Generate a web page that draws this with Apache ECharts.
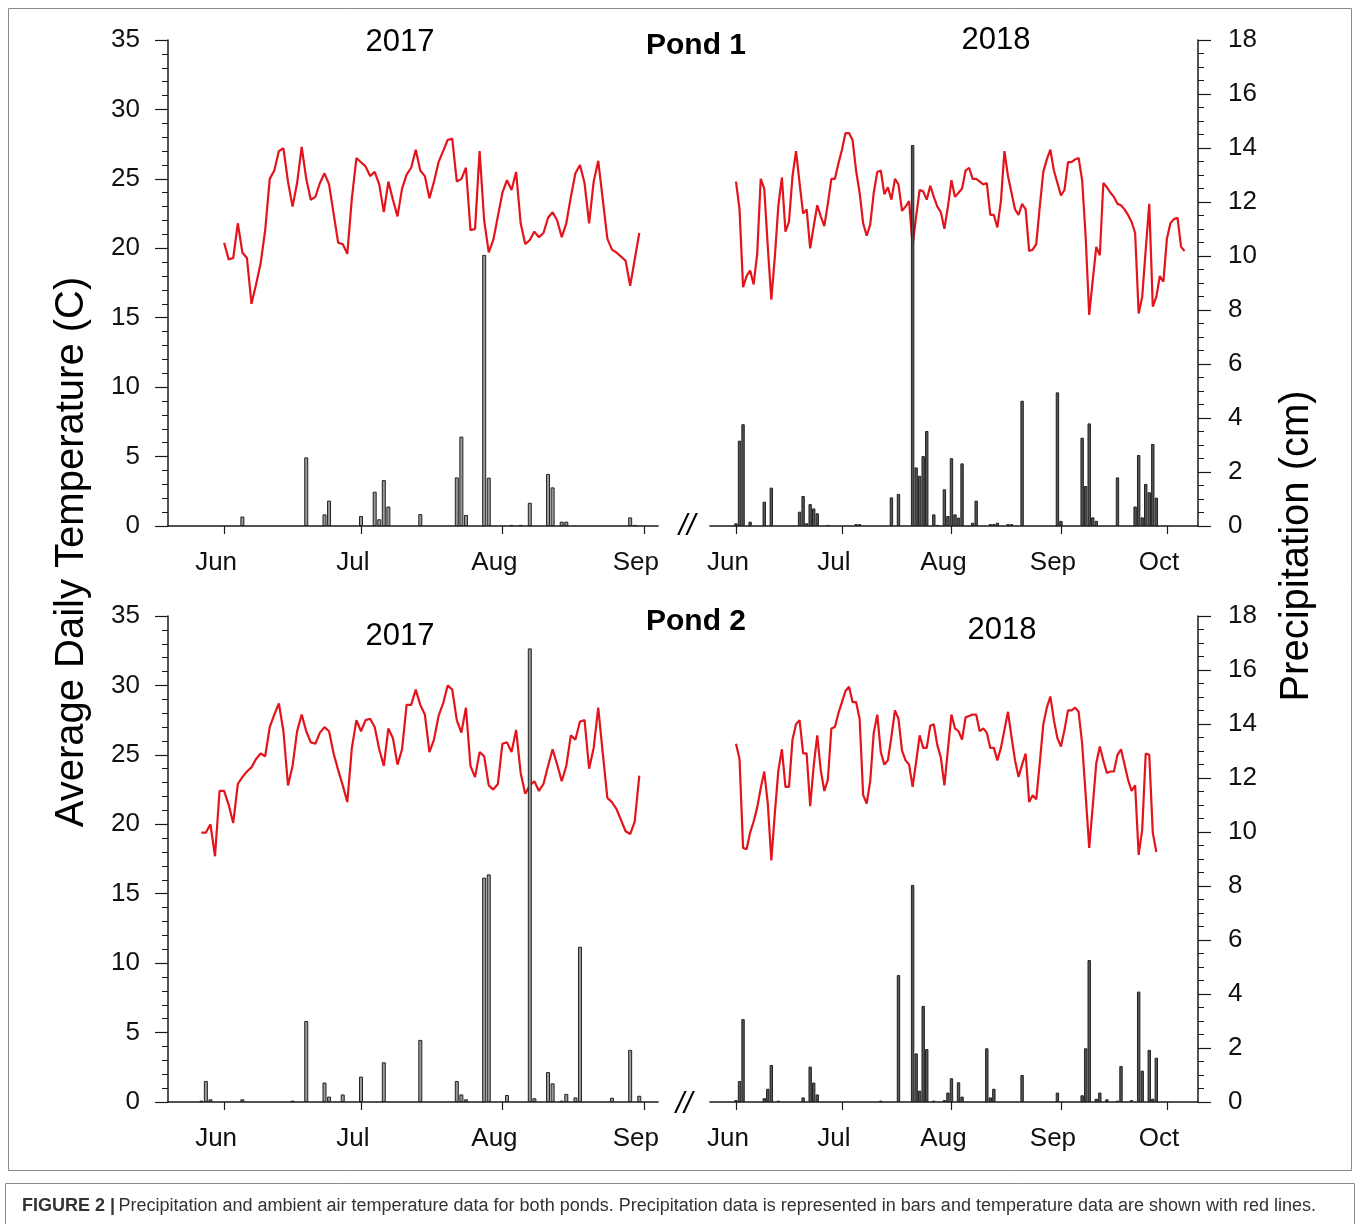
<!DOCTYPE html>
<html lang="en">
  <head>
    <meta charset="UTF-8" />
    <title>Pond precipitation and temperature</title>
    <script src="https://cdn.jsdelivr.net/npm/echarts/dist/echarts.min.js"></script>
    <style>
      html,
      body {
        margin: 0;
        padding: 0;
        background: #fff;
      }
      #chart {
        width: 1360px;
        height: 1224px;
      }
    </style>
  </head>
  <body>
    <div id="chart"></div>
    <script>
      // x values are days counted from June 1 of each year
      const months2017 = ["Jun", "Jul", "Aug", "Sep"];
      const monthDays2017 = [0, 30, 61, 92];
      const months2018 = ["Jun", "Jul", "Aug", "Sep", "Oct"];
      const monthDays2018 = [0, 30, 61, 92, 122];

      // daily mean temperature (C), first value is at the start day
      const pond1TempStart2017 = 0;
      const pond1Temp2017 = [
        20.4, 19.2, 19.3, 21.8, 19.7, 19.3, 16.0, 17.4, 18.9, 21.3,
        25.0, 25.6, 27.0, 27.2, 24.8, 23.0, 24.7, 27.3, 25.0, 23.5,
        23.7, 24.7, 25.4, 24.6, 22.5, 20.4, 20.3, 19.6, 23.6, 26.5,
        26.2, 25.9, 25.2, 25.5, 24.6, 22.6, 24.8, 23.5, 22.3, 24.3,
        25.3, 25.8, 27.1, 25.6, 25.2, 23.6, 24.8, 26.2, 27.0, 27.8,
        27.9, 24.8, 25.0, 25.8, 21.3, 21.4, 27.0, 22.0, 19.7, 20.6,
        22.3, 24.0, 24.9, 24.2, 25.5, 21.8, 20.3, 20.6, 21.2, 20.8,
        21.1, 22.2, 22.6, 22.0, 20.8, 21.8, 23.7, 25.4, 26.0, 24.7,
        21.8, 24.8, 26.3, 23.5, 20.7, 19.9, 19.7, 19.4, 19.1, 17.3,
        19.2, 21.1
      ];
      const pond1TempStart2018 = 0;
      const pond1Temp2018 = [
        24.8, 22.8, 17.2, 18.0, 18.4, 17.4, 19.6, 25.0, 24.3, 20.1,
        16.3, 19.4, 23.1, 25.1, 21.2, 21.9, 25.2, 27.0, 24.7, 22.5,
        22.8, 20.0, 21.6, 23.1, 22.3, 21.6, 23.2, 25.0, 25.0, 26.1,
        27.1, 28.3, 28.3, 27.8, 25.6, 24.0, 21.8, 20.9, 21.7, 24.0,
        25.5, 25.6, 23.9, 24.4, 23.5, 25.0, 24.6, 22.7, 23.0, 23.4,
        20.2, 22.3, 24.2, 24.1, 23.5, 24.5, 23.7, 23.0, 22.6, 21.4,
        23.0, 24.9, 23.7, 24.0, 24.3, 25.6, 25.8, 25.0, 25.0, 24.8,
        24.6, 24.7, 22.4, 22.4, 21.5, 23.4, 27.0, 25.2, 24.0, 22.8,
        22.4, 23.2, 22.8, 19.8, 19.9, 20.3, 23.0, 25.5, 26.4, 27.1,
        25.6, 24.7, 23.8, 24.2, 26.2, 26.2, 26.4, 26.5, 24.9, 20.8,
        15.2, 17.7, 20.1, 19.5, 24.7, 24.4, 24.0, 23.7, 23.2, 23.1,
        22.8, 22.4, 21.9, 21.1, 15.3, 16.5, 19.9, 23.2, 15.8, 16.5,
        18.0, 17.6, 20.7, 21.8, 22.1, 22.2, 20.1, 19.8
      ];
      const pond2TempStart2017 = -5;
      const pond2Temp2017 = [
        19.4, 19.4, 20.0, 17.7, 22.4,
        22.4, 21.4, 20.1, 22.9, 23.4, 23.8, 24.1, 24.7, 25.1, 24.9,
        27.0, 27.9, 28.7, 26.7, 22.8, 24.2, 26.7, 27.9, 26.7, 25.9,
        25.8, 26.6, 27.0, 26.7, 25.1, 23.9, 22.8, 21.6, 25.5, 27.5,
        26.7, 27.5, 27.6, 27.0, 25.4, 24.2, 26.9, 26.2, 24.3, 25.4,
        28.6, 28.6, 29.7, 28.6, 27.9, 25.2, 26.1, 27.8, 28.7, 30.0,
        29.7, 27.5, 26.6, 28.4, 24.2, 23.4, 25.2, 24.9, 22.8, 22.5,
        22.9, 25.8, 25.9, 25.2, 26.8, 23.7, 22.2, 22.8, 23.1, 22.4,
        22.9, 24.2, 25.4, 24.3, 23.1, 24.2, 26.4, 26.1, 27.4, 27.5,
        24.0, 25.5, 28.4, 25.1, 21.9, 21.6, 21.1, 20.3, 19.5, 19.3,
        20.2, 23.5
      ];
      const pond2TempStart2018 = 0;
      const pond2Temp2018 = [
        25.8, 24.7, 18.3, 18.2, 19.4, 20.2, 21.2, 22.6, 23.8, 21.5,
        17.4, 20.8, 23.9, 25.4, 22.7, 22.7, 26.1, 27.2, 27.5, 25.1,
        25.1, 21.3, 24.2, 26.4, 23.9, 22.4, 23.2, 26.9, 27.0, 28.0,
        28.8, 29.6, 29.9, 28.8, 28.8, 27.6, 22.1, 21.5, 23.1, 26.6,
        27.9, 25.2, 24.3, 24.6, 26.3, 28.2, 27.6, 25.3, 24.6, 24.3,
        22.7, 24.5, 26.4, 25.5, 25.5, 27.1, 27.2, 25.7, 24.8, 22.8,
        25.4, 27.9, 26.9, 26.7, 26.1, 27.7, 27.8, 27.9, 27.9, 26.7,
        26.9, 26.6, 25.5, 25.5, 24.6, 25.5, 26.8, 28.1, 26.3, 24.6,
        23.4, 24.3, 25.1, 21.6, 22.1, 21.8, 24.4, 27.2, 28.4, 29.2,
        27.5, 26.2, 25.6, 26.8, 28.2, 28.2, 28.4, 28.1, 25.8, 22.1,
        18.3, 21.3, 24.4, 25.6, 24.6, 23.7, 23.8, 23.8, 25.0, 25.4,
        24.3, 23.2, 22.4, 22.8, 17.8, 19.6, 25.1, 25.0, 19.4, 18.0
      ];

      // daily precipitation (cm) as [day, cm]
      const pond1Rain2017 = [
        [4, 0.35], [18, 2.54], [22, 0.43], [23, 0.94], [30, 0.37], [33, 1.27],
        [34, 0.25], [35, 1.7], [36, 0.72], [43, 0.44], [51, 1.8], [52, 3.31],
        [53, 0.41], [57, 10.04], [58, 1.79], [63, 0.04], [65, 0.04], [67, 0.86],
        [71, 1.93], [72, 1.43], [74, 0.16], [75, 0.16], [89, 0.32], [90, 0.04]
      ];
      const pond1Rain2018 = [
        [0, 0.1], [1, 3.16], [2, 3.77], [4, 0.16], [8, 0.9], [10, 1.42],
        [18, 0.53], [19, 1.11], [20, 0.1], [21, 0.81], [22, 0.65], [23, 0.47],
        [26, 0.04], [34, 0.07], [35, 0.07], [44, 1.06], [46, 1.19], [50, 14.11],
        [51, 2.17], [52, 1.86], [53, 2.59], [54, 3.52], [56, 0.43], [57, 0.04],
        [59, 1.36], [60, 0.37], [61, 2.51], [62, 0.43], [63, 0.31], [64, 2.32],
        [67, 0.12], [68, 0.94], [72, 0.07], [73, 0.07], [74, 0.12], [77, 0.07],
        [78, 0.07], [81, 4.64], [91, 4.95], [92, 0.19], [98, 3.27], [99, 1.48],
        [100, 3.8], [101, 0.32], [102, 0.19], [108, 1.8], [113, 0.72], [114, 2.63],
        [115, 0.32], [116, 1.56], [117, 1.25], [118, 3.04], [119, 1.05]
      ];
      const pond2Rain2017 = [
        [-5, 0.05], [-4, 0.78], [-3, 0.1], [4, 0.1], [15, 0.05], [18, 3.0],
        [22, 0.72], [23, 0.2], [26, 0.28], [30, 0.94], [35, 1.47], [43, 2.3],
        [51, 0.78], [52, 0.28], [53, 0.1], [57, 8.31], [58, 8.43], [62, 0.26],
        [67, 16.8], [68, 0.14], [71, 1.11], [72, 0.69], [74, 0.05], [75, 0.3],
        [77, 0.17], [78, 5.75], [85, 0.16], [89, 1.93], [91, 0.23]
      ];
      const pond2Rain2018 = [
        [0, 0.07], [1, 0.78], [2, 3.07], [8, 0.14], [9, 0.49], [10, 1.37],
        [12, 0.05], [19, 0.17], [21, 1.31], [22, 0.72], [23, 0.28], [41, 0.05],
        [46, 4.7], [50, 8.04], [51, 1.8], [52, 0.42], [53, 3.56], [54, 1.96],
        [56, 0.05], [59, 0.07], [60, 0.35], [61, 0.88], [63, 0.73], [64, 0.2],
        [71, 1.99], [72, 0.17], [73, 0.49], [81, 1.0], [91, 0.35], [98, 0.25],
        [99, 1.99], [100, 5.26], [102, 0.12], [103, 0.35], [105, 0.1], [108, 0.05],
        [109, 1.33], [112, 0.07], [114, 4.09], [115, 1.16], [117, 1.93], [118, 0.12],
        [119, 1.64]
      ];

      const FONT = "'Liberation Sans', Arial, sans-serif";
      const INK = "#1a1a1a";
      const RED = "#e3141c";

      const chart = echarts.init(document.getElementById("chart"));

      const withDays = (start, temps) => temps.map((t, i) => [start + i, t]);

      const makeX = (grid, min, max, days, names) => ({
        gridIndex: grid,
        type: "value",
        min: min,
        max: max,
        axisLine: { show: true, onZero: false, lineStyle: { color: INK, width: 1.5 } },
        axisTick: { show: true, customValues: days, length: 8, lineStyle: { color: INK, width: 1.2 } },
        axisLabel: {
          customValues: days,
          formatter: (v) => names[days.indexOf(v)],
          fontSize: 26,
          fontFamily: FONT,
          color: "#111",
          margin: 24,
          padding: [0, 16, 0, 0],
        },
        splitLine: { show: false },
      });

      // temperature axis (left) or precipitation axis (right)
      const makeY = (grid, kind, visible) => {
        const temp = kind === "temp";
        return {
          gridIndex: grid,
          type: "value",
          show: visible,
          position: temp ? "left" : "right",
          min: 0,
          max: temp ? 35 : 18,
          interval: temp ? 5 : 2,
          axisLine: { show: true, onZero: false, lineStyle: { color: INK, width: 1.5 } },
          axisTick: { show: true, length: 13, lineStyle: { color: INK, width: 1.2 } },
          minorTick: { show: true, splitNumber: temp ? 5 : 4, length: 6, lineStyle: { color: INK, width: 1 } },
          splitLine: { show: false },
          axisLabel: { fontSize: 26, fontFamily: FONT, color: "#111", margin: temp ? 28 : 30 },
        };
      };

      const tempLine = (xi, yi, data) => ({
        type: "line",
        xAxisIndex: xi,
        yAxisIndex: yi,
        data: data,
        showSymbol: false,
        lineStyle: { color: RED, width: 2.2 },
        z: 2,
      });

      const rainBars = (xi, yi, data, w, fill) => ({
        type: "bar",
        xAxisIndex: xi,
        yAxisIndex: yi,
        data: data,
        barWidth: w,
        itemStyle: { color: fill, borderColor: "#222", borderWidth: 1 },
        z: 3,
      });

      const txt = (x, y, text, size, extra) => ({
        type: "text",
        x: x,
        y: y,
        style: Object.assign(
          {
            text: text,
            fontSize: size,
            fontFamily: FONT,
            fill: "#000",
            align: "center",
            verticalAlign: "middle",
          },
          extra || {}
        ),
      });

      const option = {
        animation: false,
        backgroundColor: "#fff",
        grid: [
          { left: 168, top: 40, width: 490, height: 486 },
          { left: 710, top: 40, width: 488, height: 486 },
          { left: 168, top: 616, width: 490, height: 486 },
          { left: 710, top: 616, width: 488, height: 486 },
        ],
        xAxis: [
          makeX(0, -12.3, 95.1, monthDays2017, months2017),
          makeX(1, -7.36, 130.8, monthDays2018, months2018),
          makeX(2, -12.3, 95.1, monthDays2017, months2017),
          makeX(3, -7.36, 130.8, monthDays2018, months2018),
        ],
        yAxis: [
          makeY(0, "temp", true),
          makeY(0, "rain", false),
          makeY(1, "temp", false),
          makeY(1, "rain", true),
          makeY(2, "temp", true),
          makeY(2, "rain", false),
          makeY(3, "temp", false),
          makeY(3, "rain", true),
        ],
        series: [
          tempLine(0, 0, withDays(pond1TempStart2017, pond1Temp2017)),
          rainBars(0, 1, pond1Rain2017, 4, "#9a9a9a"),
          tempLine(1, 2, withDays(pond1TempStart2018, pond1Temp2018)),
          rainBars(1, 3, pond1Rain2018, 3.4, "#555"),
          tempLine(2, 4, withDays(pond2TempStart2017, pond2Temp2017)),
          rainBars(2, 5, pond2Rain2017, 4, "#9a9a9a"),
          tempLine(3, 6, withDays(pond2TempStart2018, pond2Temp2018)),
          rainBars(3, 7, pond2Rain2018, 3.4, "#555"),
        ],
        graphic: [
          {
            type: "rect",
            shape: { x: 8.5, y: 8.5, width: 1343, height: 1162 },
            style: { fill: "none", stroke: "#8a8a8a", lineWidth: 1 },
          },
          {
            type: "rect",
            shape: { x: 5.5, y: 1183.5, width: 1349, height: 60 },
            style: { fill: "none", stroke: "#8a8a8a", lineWidth: 1 },
          },
          txt(400, 42, "2017", 31),
          txt(696, 46, "Pond 1", 30, { fontWeight: "bold" }),
          txt(996, 40, "2018", 31),
          txt(400, 636, "2017", 31),
          txt(696, 622, "Pond 2", 30, { fontWeight: "bold" }),
          txt(1002, 630, "2018", 31),
          txt(687, 527, "//", 30, { fontStyle: "italic" }),
          txt(684, 1105, "//", 30, { fontStyle: "italic" }),
          Object.assign(txt(72, 552, "Average Daily Temperature (C)", 40), { rotation: Math.PI / 2 }),
          Object.assign(txt(1297, 546, "Precipitation (cm)", 40), { rotation: Math.PI / 2 }),
          {
            type: "text",
            x: 22,
            y: 1206,
            style: {
              text: "{b|FIGURE 2 |} {r|Precipitation and ambient air temperature data for both ponds. Precipitation data is represented in bars and temperature data are shown with red lines.}",
              verticalAlign: "middle",
              rich: {
                b: { fontSize: 18, fontFamily: FONT, fontWeight: "bold", fill: "#333" },
                r: { fontSize: 18, fontFamily: FONT, fill: "#333" },
              },
            },
          },
        ],
      };

      chart.setOption(option);
    </script>
  </body>
</html>
